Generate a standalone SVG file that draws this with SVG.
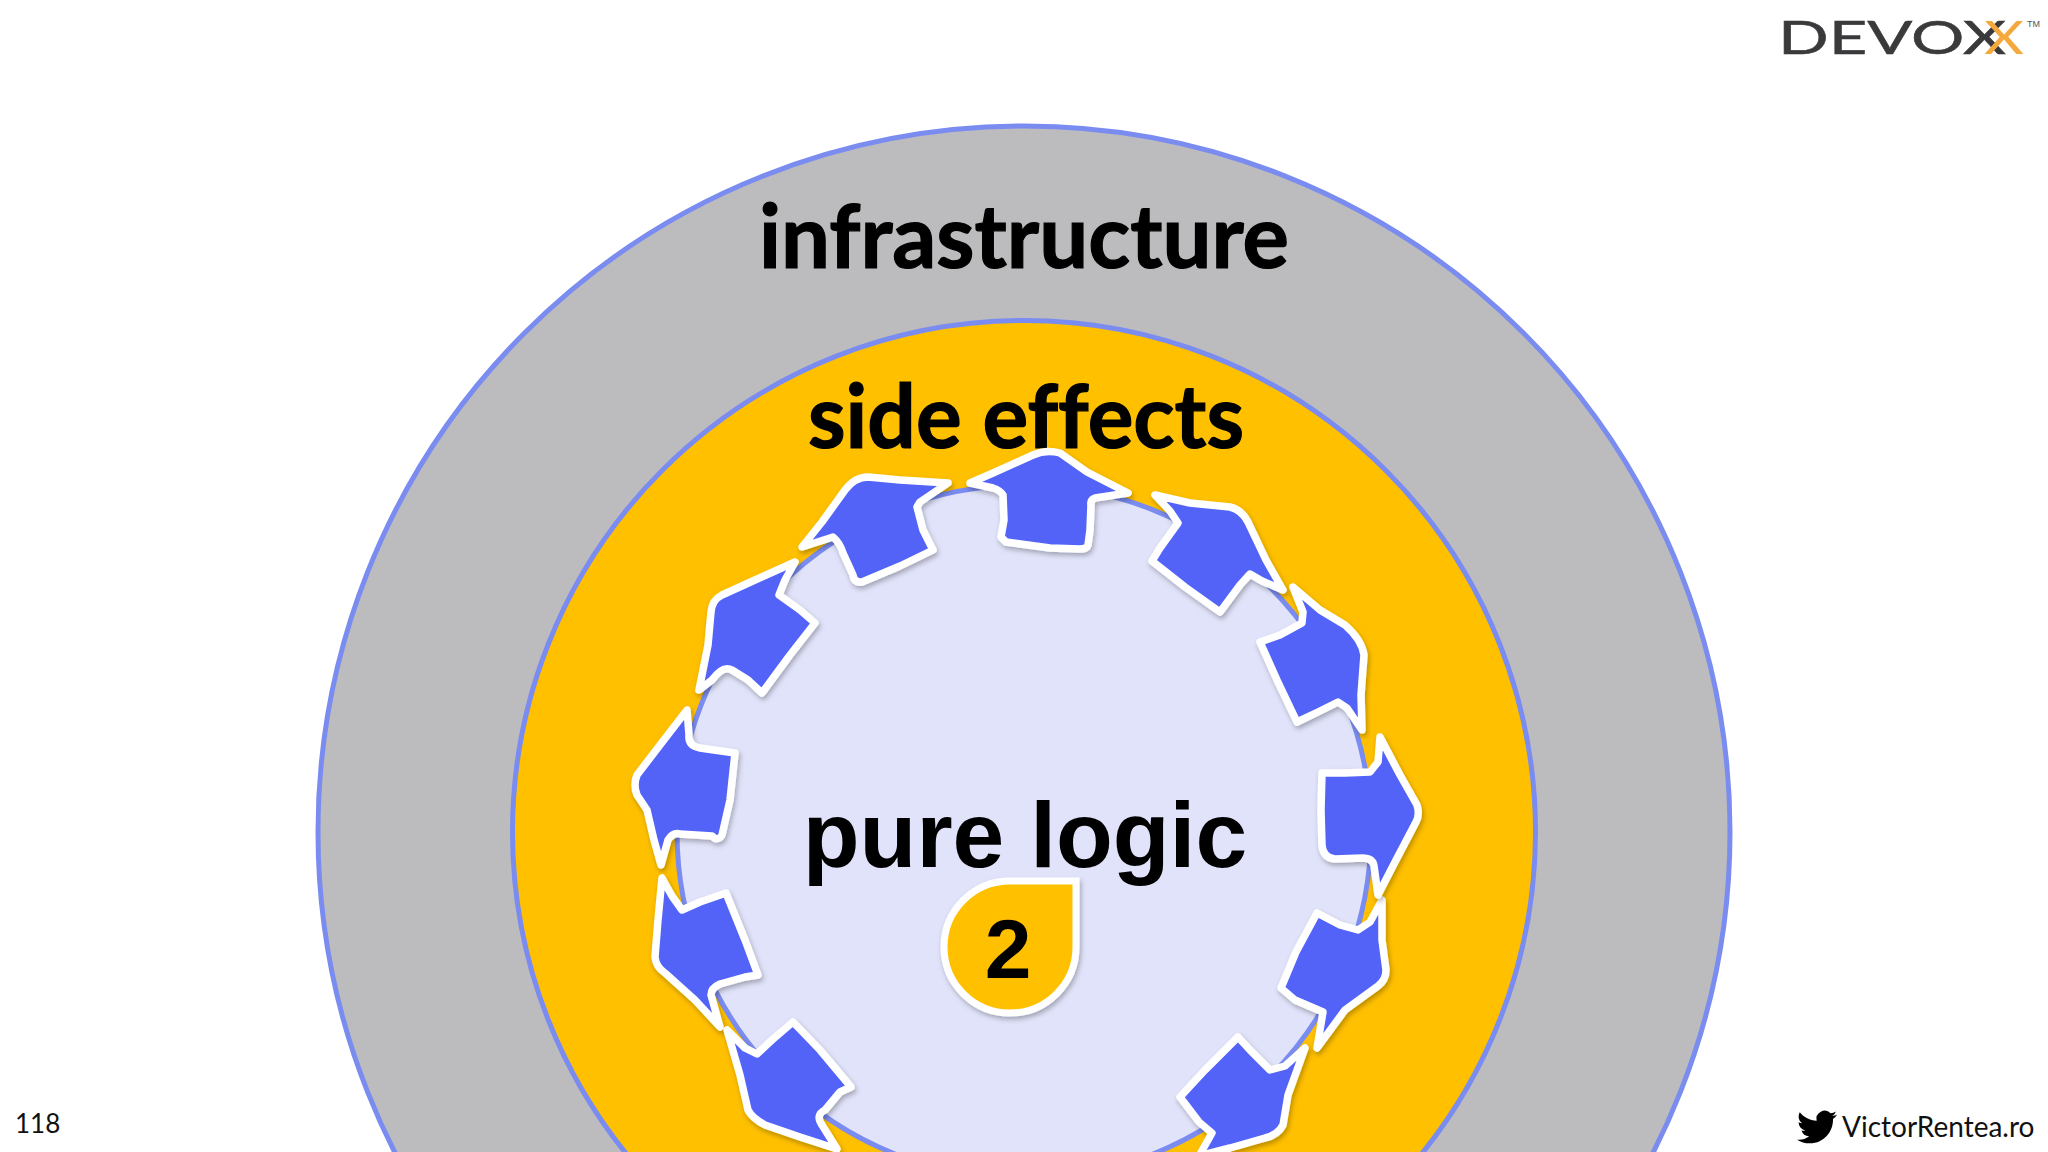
<svg xmlns="http://www.w3.org/2000/svg" width="2048" height="1152" viewBox="0 0 2048 1152">
<style>
.ring{stroke:#7b8cf0;stroke-width:5}
.arrow{fill:#5264f8;stroke:#fff;stroke-width:7.5;stroke-linejoin:round;filter:url(#sh)}
.lbl{font-family:"Lato","Noto Sans",sans-serif;font-weight:700;fill:#000;stroke:#000;stroke-width:1.2;text-anchor:middle;font-variant-ligatures:none}
.foot{font-family:"Lato","Noto Sans",sans-serif;fill:#111}
</style>
<defs><filter id="sh" x="-20%" y="-20%" width="140%" height="140%"><feDropShadow dx="1.5" dy="3" stdDeviation="2.5" flood-color="#000" flood-opacity=".28"/></filter></defs>
<rect width="2048" height="1152" fill="#fff"/>
<g id="ring-infrastructure"><circle class="ring" cx="1024" cy="832" r="706" fill="#bcbcbe"/><text class="lbl" x="1024" y="268" font-size="88" textLength="530" lengthAdjust="spacingAndGlyphs">infrastructure</text></g>
<g id="ring-side-effects"><circle class="ring" cx="1024" cy="832" r="511.5" fill="#ffc000"/><text class="lbl" x="1026" y="448" font-size="88" textLength="436" lengthAdjust="spacingAndGlyphs">side effects</text></g>
<g id="ring-pure-logic"><circle class="ring" cx="1024" cy="832" r="347" fill="#e1e3fa"/><text x="1025" y="867" font-family="Liberation Sans,Arial,sans-serif" font-weight="700" font-size="93" text-anchor="middle">pure logic</text></g>
<g id="badge"><path d="M1076,881V947A66,66 0 1 1 1010,881Z" fill="#ffc000" stroke="#fff" stroke-width="7" stroke-linejoin="miter" filter="url(#sh)"/><text x="1008" y="978" font-family="Liberation Sans,sans-serif" font-weight="700" font-size="84" text-anchor="middle">2</text></g>
<g id="connectors">
<path id="a0" class="arrow" d="M970,483L993,473L1033,455Q1046,449 1060,453L1087,472L1128,493L1095,498Q1090,500 1091,505L1090,530L1088,545Q1087,549 1080,549L1050,548L1006,542L1001,537L1004,520L1003,495Q1000,490 993,488Z"/>
<path id="a1" class="arrow" d="M948,483L920,502L917,507L923,530L933,550L900,566L862,582Q854,583 853,575L843,553Q840,543 833,537L802,547L822,522L845,490Q855,477 868,477L900,480Z"/>
<path id="a2" class="arrow" d="M795,562L755,580L722,595Q712,600 711,612L708,645L699,690L712,680Q723,665 732,670L748,680L762,693L790,655L815,623L800,610L779,595L785,580Z"/>
<path id="a3" class="arrow" d="M687,710L660,745L637,775Q633,785 637,795L647,810L654,840L661,865L668,840Q673,832 680,834L712,836Q718,842 722,835L730,800L735,753L700,748Q688,746 689,735Z"/>
<path id="a4" class="arrow" d="M662,878L658,920L655,957Q656,967 665,973L695,1000L720,1027L711,995Q711,988 720,984L745,977L758,975L745,940L726,893L700,902L682,910L672,896Z"/>
<path id="a5" class="arrow" d="M727,1030L740,1075L748,1110Q752,1118 765,1125L800,1137L837,1149L822,1125Q815,1115 825,1110L840,1092L851,1087L820,1050L793,1022L772,1040L757,1054L745,1048Z"/>
<path id="a6" class="arrow" d="M1305,1048L1288,1095L1283,1125Q1278,1135 1265,1138L1230,1148L1199,1156L1212,1133L1199,1122L1180,1097L1205,1070L1238,1037L1250,1050L1270,1070L1285,1066Z"/>
<path id="a7" class="arrow" d="M1382,900L1382,940L1386,970Q1386,980 1378,986L1345,1010L1317,1048L1323,1012L1295,1000L1281,988L1296,952L1317,913L1340,925L1358,930L1370,922Z"/>
<path id="a8" class="arrow" d="M1380,737L1400,775L1417,805Q1420,815 1416,822L1395,862L1378,895L1374,866Q1373,858 1362,858L1335,859Q1323,858 1322,845L1321,810L1322,773L1345,773L1370,772L1378,762Z"/>
<path id="a9" class="arrow" d="M1293,587L1320,610L1345,625Q1362,640 1364,655L1361,695L1362,730L1347,708L1338,702L1318,712L1297,722L1277,680L1260,642L1280,635L1302,623L1303,612Z"/>
<path id="a10" class="arrow" d="M1155,495L1190,503L1230,507Q1242,510 1248,522L1266,560L1283,590L1262,581L1250,574L1240,585L1220,612L1185,587L1152,561L1160,548L1178,523L1170,511Z"/>
</g>
<g id="logo">
<text x="1778" y="54" font-family="Lato,sans-serif" font-size="47" fill="#3a3a3c" stroke="#3a3a3c" stroke-width=".5" textLength="228" lengthAdjust="spacingAndGlyphs">DEVOX</text>
<text x="1984" y="54" font-family="Lato,sans-serif" font-size="47" fill="#f5a83c" textLength="40" lengthAdjust="spacingAndGlyphs">X</text>
<text x="2027" y="27" font-family="Liberation Sans,sans-serif" font-size="9" fill="#555">TM</text>
</g>
<text id="page" class="foot" x="15" y="1133" font-size="26">118</text>
<g id="credit">
<path transform="translate(1797,1107) scale(1.67)" fill="#000" d="M23.953 4.57a10 10 0 01-2.825.775 4.958 4.958 0 002.163-2.723c-.951.555-2.005.959-3.127 1.184a4.92 4.92 0 00-8.384 4.482C7.69 8.095 4.067 6.13 1.64 3.162a4.822 4.822 0 00-.666 2.475c0 1.71.87 3.213 2.188 4.096a4.904 4.904 0 01-2.228-.616v.06a4.923 4.923 0 003.946 4.827 4.996 4.996 0 01-2.212.085 4.936 4.936 0 004.604 3.417 9.867 9.867 0 01-6.102 2.105c-.39 0-.779-.023-1.17-.067a13.995 13.995 0 007.557 2.209c9.053 0 13.998-7.496 13.998-13.985 0-.21 0-.42-.015-.63A9.935 9.935 0 0024 4.59z"/>
<text class="foot" x="1842" y="1137" font-size="28">VictorRentea.ro</text>
</g>
</svg>
